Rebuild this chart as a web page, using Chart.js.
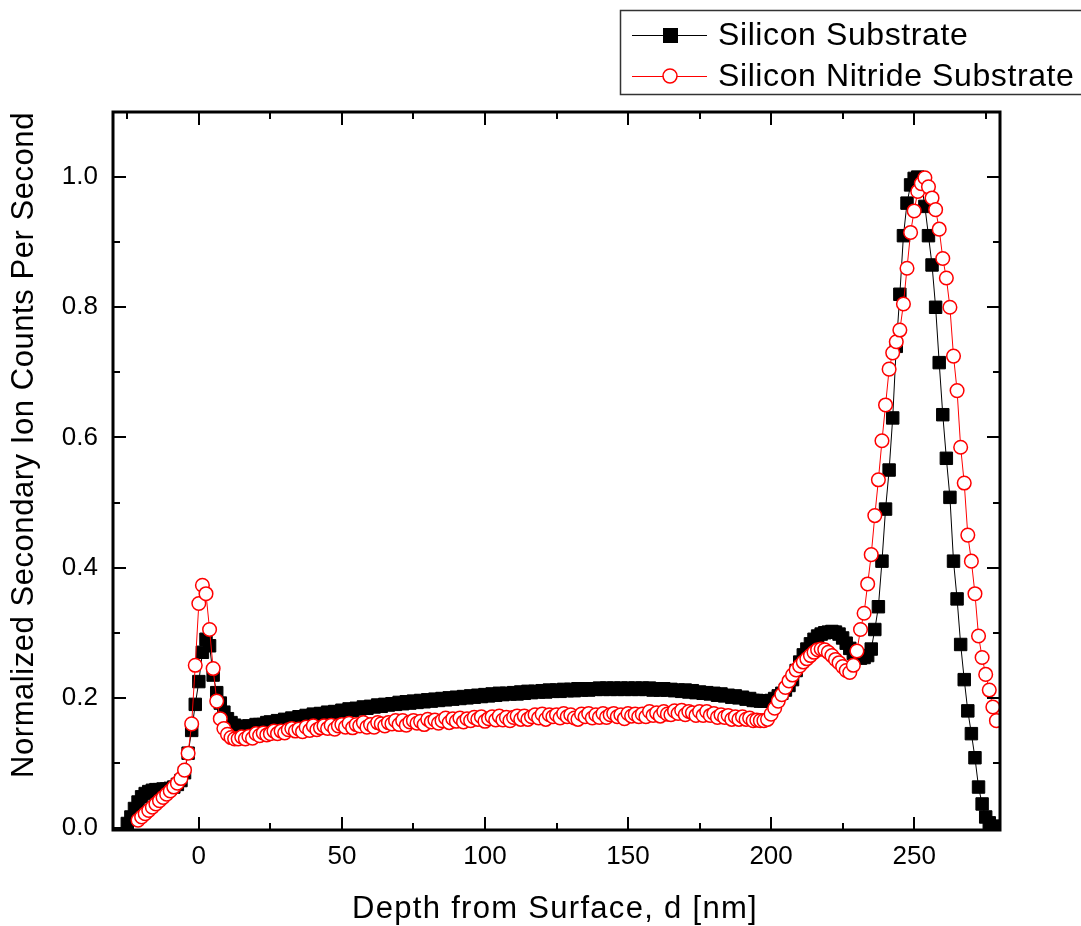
<!DOCTYPE html>
<html>
<head>
<meta charset="utf-8">
<script src="https://cdn.jsdelivr.net/npm/chart.js@4.4.0/dist/chart.umd.min.js"></script>
<style>
  html, body { margin: 0; padding: 0; background: #fff; }
  #wrap { width: 1081px; height: 926px; }
</style>
</head>
<body>
<div id="wrap"><canvas id="depthChart" width="1081" height="926"></canvas></div>
<script>
// depth profile — secondary ion counts vs depth, two substrates

// sampling depth, nm (one row = 10 nm)
const depth = [
  -25, -23.75, -22.5, -21.25, -20, -18.75, -17.5, -16.25,
  -15, -13.75, -12.5, -11.25, -10, -8.75, -7.5, -6.25,
  -5, -3.75, -2.5, -1.25, 0, 1.25, 2.5, 3.75,
  5, 6.25, 7.5, 8.75, 10, 11.25, 12.5, 13.75,
  15, 16.25, 17.5, 18.75, 20, 21.25, 22.5, 23.75,
  25, 26.25, 27.5, 28.75, 30, 31.25, 32.5, 33.75,
  35, 36.25, 37.5, 38.75, 40, 41.25, 42.5, 43.75,
  45, 46.25, 47.5, 48.75, 50, 51.25, 52.5, 53.75,
  55, 56.25, 57.5, 58.75, 60, 61.25, 62.5, 63.75,
  65, 66.25, 67.5, 68.75, 70, 71.25, 72.5, 73.75,
  75, 76.25, 77.5, 78.75, 80, 81.25, 82.5, 83.75,
  85, 86.25, 87.5, 88.75, 90, 91.25, 92.5, 93.75,
  95, 96.25, 97.5, 98.75, 100, 101.25, 102.5, 103.75,
  105, 106.25, 107.5, 108.75, 110, 111.25, 112.5, 113.75,
  115, 116.25, 117.5, 118.75, 120, 121.25, 122.5, 123.75,
  125, 126.25, 127.5, 128.75, 130, 131.25, 132.5, 133.75,
  135, 136.25, 137.5, 138.75, 140, 141.25, 142.5, 143.75,
  145, 146.25, 147.5, 148.75, 150, 151.25, 152.5, 153.75,
  155, 156.25, 157.5, 158.75, 160, 161.25, 162.5, 163.75,
  165, 166.25, 167.5, 168.75, 170, 171.25, 172.5, 173.75,
  175, 176.25, 177.5, 178.75, 180, 181.25, 182.5, 183.75,
  185, 186.25, 187.5, 188.75, 190, 191.25, 192.5, 193.75,
  195, 196.25, 197.5, 198.75, 200, 201.25, 202.5, 203.75,
  205, 206.25, 207.5, 208.75, 210, 211.25, 212.5, 213.75,
  215, 216.25, 217.5, 218.75, 220, 221.25, 222.5, 223.75,
  225, 226.25, 227.5, 228.75, 230, 231.25, 232.5, 233.75,
  235, 236.25, 237.5, 238.75, 240, 241.25, 242.5, 243.75,
  245, 246.25, 247.5, 248.75, 250, 251.25, 252.5, 253.75,
  255, 256.25, 257.5, 258.75, 260, 261.25, 262.5, 263.75,
  265, 266.25, 267.5, 268.75, 270, 271.25, 272.5, 273.75,
  275, 276.25, 277.5, 278.75
];

// Silicon Substrate
const siliconCps = [
  0.007, 0.017, 0.030, 0.040, 0.048, 0.053, 0.056, 0.058,
  0.059, 0.059, 0.060, 0.060, 0.061, 0.063, 0.067, 0.073,
  0.085, 0.115, 0.150, 0.190, 0.225, 0.270, 0.290, 0.280,
  0.235, 0.208, 0.192, 0.178, 0.168, 0.162, 0.158, 0.156,
  0.156, 0.154, 0.157, 0.156, 0.159, 0.159, 0.159, 0.162,
  0.163, 0.162, 0.165, 0.164, 0.167, 0.166, 0.169, 0.168,
  0.171, 0.170, 0.173, 0.172, 0.175, 0.174, 0.176, 0.175,
  0.178, 0.177, 0.179, 0.178, 0.181, 0.180, 0.183, 0.181,
  0.184, 0.183, 0.186, 0.184, 0.187, 0.186, 0.189, 0.187,
  0.190, 0.189, 0.191, 0.190, 0.193, 0.191, 0.194, 0.192,
  0.195, 0.193, 0.196, 0.194, 0.197, 0.195, 0.198, 0.196,
  0.199, 0.197, 0.200, 0.198, 0.201, 0.199, 0.202, 0.200,
  0.203, 0.201, 0.204, 0.202, 0.205, 0.203, 0.206, 0.204,
  0.207, 0.205, 0.207, 0.206, 0.208, 0.206, 0.209, 0.207,
  0.210, 0.208, 0.210, 0.209, 0.211, 0.209, 0.212, 0.210,
  0.212, 0.210, 0.213, 0.211, 0.213, 0.211, 0.214, 0.212,
  0.214, 0.212, 0.214, 0.213, 0.215, 0.213, 0.215, 0.213,
  0.215, 0.213, 0.215, 0.213, 0.215, 0.213, 0.215, 0.213,
  0.215, 0.213, 0.215, 0.212, 0.214, 0.212, 0.214, 0.212,
  0.213, 0.211, 0.212, 0.210, 0.212, 0.209, 0.211, 0.208,
  0.209, 0.207, 0.208, 0.206, 0.207, 0.204, 0.206, 0.203,
  0.204, 0.201, 0.203, 0.200, 0.201, 0.198, 0.199, 0.196,
  0.196, 0.195, 0.195, 0.195, 0.196, 0.199, 0.203, 0.207,
  0.212, 0.219, 0.228, 0.242, 0.255, 0.266, 0.275, 0.283,
  0.290, 0.295, 0.298, 0.300, 0.301, 0.302, 0.301, 0.298,
  0.292, 0.284, 0.276, 0.268, 0.263, 0.261, 0.262, 0.265,
  0.275, 0.305, 0.340, 0.410, 0.490, 0.550, 0.630, 0.740,
  0.820, 0.910, 0.960, 0.988, 0.998, 1.000, 0.990, 0.955,
  0.910, 0.865, 0.800, 0.715, 0.635, 0.568, 0.508, 0.410,
  0.352, 0.282, 0.228, 0.180, 0.145, 0.108, 0.063, 0.037,
  0.017, 0.008, 0.003, 0.001
];

// Silicon Nitride Substrate
const nitrideCps = [
  null, null, null, 0.012, 0.017, 0.022, 0.027, 0.032,
  0.037, 0.042, 0.047, 0.052, 0.057, 0.063, 0.069, 0.076,
  0.089, 0.115, 0.160, 0.250, 0.345, 0.373, 0.360, 0.305,
  0.245, 0.195, 0.168, 0.153, 0.144, 0.139, 0.137, 0.137,
  0.140, 0.137, 0.141, 0.138, 0.145, 0.142, 0.146, 0.143,
  0.145, 0.149, 0.145, 0.149, 0.146, 0.151, 0.153, 0.149,
  0.152, 0.148, 0.155, 0.150, 0.157, 0.151, 0.154, 0.157,
  0.153, 0.158, 0.152, 0.157, 0.159, 0.155, 0.161, 0.154,
  0.159, 0.157, 0.162, 0.155, 0.159, 0.155, 0.162, 0.160,
  0.157, 0.162, 0.160, 0.165, 0.159, 0.165, 0.158, 0.163,
  0.165, 0.161, 0.164, 0.159, 0.167, 0.163, 0.166, 0.161,
  0.165, 0.169, 0.162, 0.168, 0.164, 0.169, 0.163, 0.168,
  0.165, 0.170, 0.167, 0.171, 0.164, 0.168, 0.171, 0.166,
  0.172, 0.166, 0.170, 0.165, 0.170, 0.172, 0.167, 0.172,
  0.167, 0.171, 0.174, 0.169, 0.175, 0.167, 0.174, 0.171,
  0.174, 0.169, 0.176, 0.171, 0.174, 0.169, 0.167, 0.175,
  0.171, 0.176, 0.169, 0.174, 0.170, 0.176, 0.170, 0.174,
  0.176, 0.171, 0.174, 0.168, 0.176, 0.172, 0.175, 0.171,
  0.175, 0.171, 0.179, 0.173, 0.177, 0.172, 0.179, 0.175,
  0.174, 0.180, 0.176, 0.181, 0.174, 0.179, 0.177, 0.173,
  0.179, 0.173, 0.179, 0.173, 0.176, 0.170, 0.174, 0.170,
  0.173, 0.167, 0.171, 0.167, 0.171, 0.167, 0.169, 0.165,
  0.166, 0.165, 0.165, 0.167, 0.175, 0.184, 0.195, 0.205,
  0.216, 0.226, 0.235, 0.243, 0.249, 0.255, 0.260, 0.265,
  0.270, 0.274, 0.275, 0.274, 0.270, 0.265, 0.259, 0.254,
  0.248, 0.242, 0.239, 0.250, 0.272, 0.305, 0.330, 0.375,
  0.420, 0.480, 0.535, 0.595, 0.650, 0.705, 0.730, 0.747,
  0.765, 0.805, 0.860, 0.915, 0.948, 0.978, 0.990, 0.999,
  0.985, 0.968, 0.950, 0.920, 0.875, 0.845, 0.800, 0.725,
  0.672, 0.585, 0.530, 0.450, 0.410, 0.360, 0.295, 0.262,
  0.236, 0.212, 0.186, 0.165
];

const seriesNames = ['Silicon Substrate', 'Silicon Nitride Substrate'];
const xTicks = [0, 50, 100, 150, 200, 250];
const xMinor = [-25, 25, 75, 125, 175, 225, 275];
const yTicks = [0, 0.2, 0.4, 0.6, 0.8, 1.0];
const yMinor = [0.1, 0.3, 0.5, 0.7, 0.9];

const FONT = "'Liberation Sans', Arial, sans-serif";

function toPoints(values) {
  return depth
    .map((d, i) => ({ x: d, y: values[i] }))
    .filter(p => p.y !== null);
}

// ── inward ticks on all four sides, frame, axis titles ─────
const framePlugin = {
  id: 'frame',
  afterDraw(chart) {
    const { ctx: c, chartArea, scales } = chart;
    const { left, right, top, bottom } = chartArea;
    c.save();
    c.strokeStyle = '#000';
    c.lineWidth = 2;
    c.beginPath();
    const xMark = (v, len) => {
      const px = Math.round(scales.x.getPixelForValue(v));
      c.moveTo(px, bottom); c.lineTo(px, bottom - len);
      c.moveTo(px, top);    c.lineTo(px, top + len);
    };
    const yMark = (v, len) => {
      const py = Math.round(scales.y.getPixelForValue(v));
      c.moveTo(left, py);  c.lineTo(left + len, py);
      c.moveTo(right, py); c.lineTo(right - len, py);
    };
    xTicks.forEach(v => xMark(v, 13));
    xMinor.forEach(v => xMark(v, 7));
    yTicks.forEach(v => yMark(v, 13));
    yMinor.forEach(v => yMark(v, 7));
    c.stroke();

    c.lineWidth = 3;
    c.strokeRect(left, top, right - left, bottom - top);

    c.fillStyle = '#000';
    c.font = `31px ${FONT}`;
    c.letterSpacing = '1.3px';
    c.textAlign = 'center';
    c.textBaseline = 'alphabetic';
    c.fillText('Depth from Surface, d [nm]', 555, 918);

    c.letterSpacing = '0.55px';
    c.translate(33, 445);
    c.rotate(-Math.PI / 2);
    c.fillText('Normalized Secondary Ion Counts Per Second', 0, 0);
    c.restore();
  }
};

// ── legend box, top right, partly off the canvas ─────
const legendPlugin = {
  id: 'boxLegend',
  afterDraw(chart) {
    const c = chart.ctx;
    c.save();
    c.strokeStyle = '#333';
    c.lineWidth = 1.5;
    c.strokeRect(620.5, 10.5, 480, 84);

    const rows = [
      { y: 35, color: '#000', marker: 'rect' },
      { y: 76, color: '#f00', marker: 'circle' },
    ];
    rows.forEach((r, i) => {
      c.beginPath();
      c.lineWidth = 1;
      c.strokeStyle = r.color;
      c.moveTo(632, r.y + 0.5);
      c.lineTo(707, r.y + 0.5);
      c.stroke();
      if (r.marker === 'rect') {
        c.fillStyle = '#000';
        c.fillRect(663, r.y - 7, 15, 15);
      } else {
        c.beginPath();
        c.arc(670, r.y, 7, 0, Math.PI * 2);
        c.fillStyle = '#fff';
        c.fill();
        c.lineWidth = 1.5;
        c.stroke();
      }
      c.fillStyle = '#000';
      c.font = `32px ${FONT}`;
      c.letterSpacing = '0.6px';
      c.textAlign = 'left';
      c.textBaseline = 'middle';
      c.fillText(seriesNames[i], 718, r.y + 1);
    });
    c.restore();
  }
};

new Chart(document.getElementById('depthChart'), {
  type: 'line',
  data: {
    datasets: [
      {
        label: seriesNames[0],
        data: toPoints(siliconCps),
        order: 2,
        borderColor: '#000',
        borderWidth: 1,
        pointStyle: 'rect',
        pointRadius: 8.8,
        pointBackgroundColor: '#000',
        pointBorderColor: '#000',
        pointBorderWidth: 1,
        tension: 0,
        clip: 0,
      },
      {
        label: seriesNames[1],
        data: toPoints(nitrideCps),
        order: 1,
        borderColor: '#f00',
        borderWidth: 1,
        pointStyle: 'circle',
        pointRadius: 6.8,
        pointBackgroundColor: '#fff',
        pointBorderColor: '#f00',
        pointBorderWidth: 1.5,
        tension: 0,
        clip: 0,
      }
    ]
  },
  plugins: [framePlugin, legendPlugin],
  options: {
    responsive: false,
    animation: false,
    events: [],
    layout: { padding: { left: 0, top: 112, right: 81, bottom: 0 } },
    plugins: {
      legend: { display: false },
      tooltip: { enabled: false },
    },
    scales: {
      x: {
        type: 'linear',
        min: -30,
        max: 280,
        grid: { display: false, drawTicks: false },
        border: { display: false },
        afterBuildTicks: s => { s.ticks = xTicks.map(v => ({ value: v })); },
        afterFit: s => { s.height = 96; },
        ticks: {
          padding: 11,
          color: '#000',
          font: { family: FONT, size: 26 },
          callback: v => String(v),
        }
      },
      y: {
        type: 'linear',
        min: -0.003,
        max: 1.1,
        grid: { display: false, drawTicks: false },
        border: { display: false },
        afterBuildTicks: s => { s.ticks = yTicks.map(v => ({ value: v })); },
        afterFit: s => { s.width = 113; },
        ticks: {
          padding: 15,
          color: '#000',
          font: { family: FONT, size: 26 },
          callback: v => Number(v).toFixed(1),
        }
      }
    }
  }
});
</script>
</body>
</html>
